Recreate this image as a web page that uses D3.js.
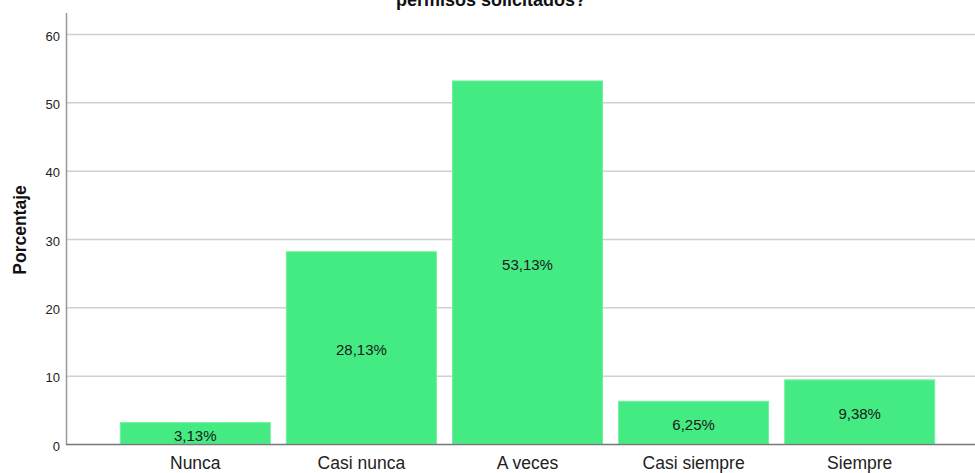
<!DOCTYPE html>
<html>
<head>
<meta charset="utf-8">
<script src="https://cdn.jsdelivr.net/npm/d3@7"></script>
<style>
  body { margin: 0; background: #fff; }
  svg { display: block; font-family: "Liberation Sans", Arial, sans-serif; }
</style>
</head>
<body>
<div id="chart"></div>
<script>
// Chart data
var categories = ["Nunca", "Casi nunca", "A veces", "Casi siempre", "Siempre"];
var percentages = [3.13, 28.13, 53.13, 6.25, 9.38];
var yTicks = [0, 10, 20, 30, 40, 50, 60];
var title = "permisos solicitados?";
var yLabel = "Porcentaje";

var width = 975, height = 473;

var svg = d3.select("#chart").append("svg")
    .attr("width", width)
    .attr("height", height);

var x = d3.scaleBand()
    .domain(categories)
    .range([112, 943])
    .paddingInner(0.097)
    .paddingOuter(0.05);

var y = d3.scaleLinear()
    .domain([0, 60])
    .range([444, 34]);

// Gridlines
svg.append("g")
    .selectAll("line")
    .data(yTicks.filter(function(d) { return d > 0; }))
    .enter().append("line")
    .attr("x1", 66)
    .attr("x2", width)
    .attr("y1", function(d) { return y(d) + 0.5; })
    .attr("y2", function(d) { return y(d) + 0.5; })
    .attr("stroke", "#d0d0d0")
    .attr("stroke-width", 1.5);

// Y axis
var yAxis = svg.append("g")
    .attr("transform", "translate(66,2)")
    .call(d3.axisLeft(y).tickValues(yTicks).tickSize(0).tickPadding(6));
yAxis.select(".domain").remove();
yAxis.selectAll("text")
    .attr("font-size", 13)
    .attr("fill", "#222")
    .attr("font-family", "Liberation Sans, Arial, sans-serif");

// Bars
svg.append("g")
    .selectAll("rect")
    .data(percentages)
    .enter().append("rect")
    .attr("x", function(d, i) { return x(categories[i]); })
    .attr("y", function(d) { return y(d); })
    .attr("width", x.bandwidth())
    .attr("height", function(d) { return y(0) - y(d); })
    .attr("fill", "#44eb82")
    .attr("stroke", "#6ff0a0")
    .attr("stroke-width", 1);

// Bar labels
svg.append("g")
    .selectAll("text")
    .data(percentages)
    .enter().append("text")
    .attr("x", function(d, i) { return x(categories[i]) + x.bandwidth() / 2; })
    .attr("y", function(d) { return (y(d) + y(0)) / 2 + 2; })
    .attr("dy", "0.35em")
    .attr("text-anchor", "middle")
    .attr("font-size", 15)
    .attr("fill", "#1a1a1a")
    .text(function(d) { return d.toFixed(2).replace(".", ",") + "%"; });

// Axis lines
svg.append("line")
    .attr("x1", 66.5).attr("x2", 66.5)
    .attr("y1", 13).attr("y2", 445)
    .attr("stroke", "#999").attr("stroke-width", 1.5);
svg.append("line")
    .attr("x1", 66).attr("x2", width)
    .attr("y1", 444.5).attr("y2", 444.5)
    .attr("stroke", "#777").attr("stroke-width", 1.5);

// X axis labels
svg.append("g")
    .selectAll("text")
    .data(categories)
    .enter().append("text")
    .attr("x", function(d) { return x(d) + x.bandwidth() / 2; })
    .attr("y", 469)
    .attr("text-anchor", "middle")
    .attr("font-size", 17.5)
    .attr("fill", "#222")
    .text(function(d) { return d; });

// Y label
svg.append("text")
    .attr("transform", "translate(26,230) rotate(-90)")
    .attr("text-anchor", "middle")
    .attr("font-size", 17.5)
    .attr("font-weight", "bold")
    .attr("fill", "#111")
    .text(yLabel);

// Title (only its last line shows at the top edge)
svg.append("text")
    .attr("x", 491)
    .attr("y", 6)
    .attr("text-anchor", "middle")
    .attr("font-size", 18)
    .attr("font-weight", "bold")
    .attr("fill", "#111")
    .text(title);
</script>
</body>
</html>
